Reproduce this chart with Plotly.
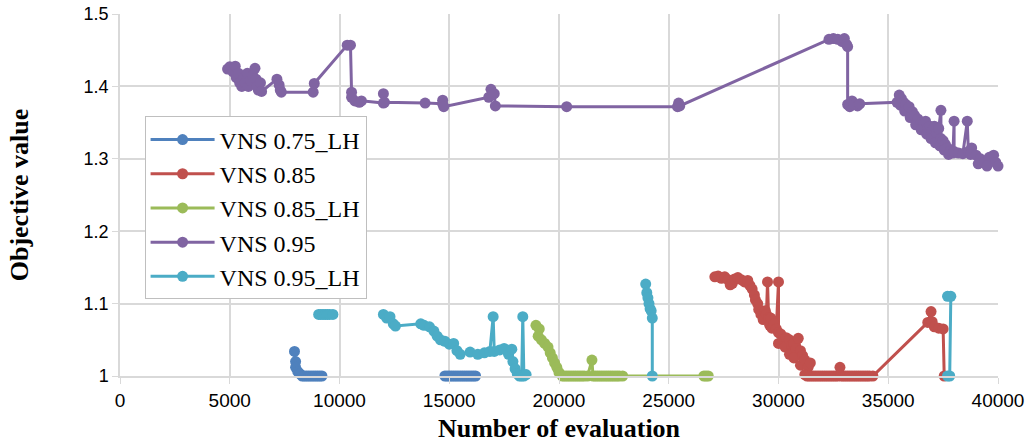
import plotly.graph_objects as go

# ---- data ----
blue_x = [7950, 8000, 8000, 8100, 8200, 8300, 8400, 8500, 8600, 8700, 8800, 8900, 9000,
          9100, 9200, None,
          14800, 14900, 15000, 15100, 15200, 15300, 15400, 15500, 15600, 15700, 15800,
          15900, 16000, 16100, 16200]
blue_y = [1.034, 1.02, 1.012, 1.006, 1.003, 1.0, 1.0, 1.0, 1.0, 1.0, 1.0, 1.0, 1.0,
          1.0, 1.0, None,
          1.0, 1.0, 1.0, 1.0, 1.0, 1.0, 1.0, 1.0, 1.0, 1.0, 1.0,
          1.0, 1.0, 1.0, 1.0]

red_x = [27100, 27250, 27400, 27550, 27700, 27800, 27900, 28000, 28150, 28300, 28450,
         28600, 28700, 28800, 28900, 28950, 29050, 29100, 29200, 29300, 29400, 29450,
         29500, 29550, 29600, 29700, 29650, 29800, 29900, 30000, 30000, 30100, 30000,
         30200, 30350, 30300, 30500, 30600, 30500, 30700, 30800, 30700, 30900, 31000,
         31100, 31000, 31200, 31350, 31450, 31200, 31300, 31400, 31500, 31600, 31700,
         31800, 31900, 32000, 32100, 32200, 32300, 32400, 32500, 32600, 32700, 32800,
         32850, 32950, 33050, 33150, 33250, 33350, 33450, 33550, 33650, 33750, 33850,
         33950, 34050, 34150, 34300,
         36800, 36950, 37000, 37100, 37300, 37500, 37550]
red_y = [1.137, 1.138, 1.135, 1.137, 1.133, 1.126, 1.128, 1.134, 1.136, 1.133, 1.13,
         1.132, 1.125, 1.12, 1.112, 1.105, 1.1, 1.092, 1.085, 1.078, 1.09, 1.085,
         1.13, 1.08, 1.07, 1.066, 1.08, 1.072, 1.065, 1.13, 1.06, 1.058, 1.045,
         1.05, 1.053, 1.04, 1.05, 1.042, 1.03, 1.045, 1.038, 1.025, 1.052, 1.035,
         1.028, 1.015, 1.022, 1.012, 1.018, 1.002, 1.0, 1.0, 1.0, 1.0, 1.0,
         1.0, 1.0, 1.0, 1.0, 1.0, 1.0, 1.0, 1.0, 1.0, 1.0, 1.012,
         1.0, 1.0, 1.0, 1.0, 1.0, 1.0, 1.0, 1.0, 1.0, 1.0, 1.0,
         1.0, 1.0, 1.0, 1.0,
         1.074, 1.089, 1.075, 1.068, 1.066, 1.065, 1.0]

green_x = [18950, 19100, 19050, 19200, 19350, 19500, 19600, 19700, 19800, 19900, 20000,
           20150, 20250, 20350, 20450, 20550, 20650, 20750, 20850, 20950, 21050, 21150,
           21300, 21500, 21550, 21650, 21750, 21850, 21950, 22050, 22150, 22250, 22350,
           22450, 22550, 22650, 22750, 22900, 26600, 26700, 26800]
green_y = [1.07, 1.065, 1.055, 1.05, 1.045, 1.04, 1.032, 1.025, 1.018, 1.012, 1.005,
           1.0, 1.0, 1.0, 1.0, 1.0, 1.0, 1.0, 1.0, 1.0, 1.0, 1.0,
           1.0, 1.022, 1.0, 1.0, 1.0, 1.0, 1.0, 1.0, 1.0, 1.0, 1.0,
           1.0, 1.0, 1.0, 1.0, 1.0, 1.0, 1.0, 1.0]

purple_x = [4900, 5000, 5150, 5250, 5300, 5400, 5450, 5550, 5650, 5700, 5800, 5850,
            5950, 6050, 6150, 6200, 6250, 6300, 6400, 6450, 7150, 7250, 7300, 7350,
            8800, 8850, 10350, 10500, 10550, 10550, 10700, 10900, 11000, 12000, 12000,
            12050, 13900, 14700, 14700, 14750, 16800, 16900, 16950, 17050, 17100,
            20350, 25400, 25450, 25500, 32300, 32500, 32700, 32900, 33000, 33100,
            33150, 33150, 33250, 33350, 33450, 33600, 33700, 35400, 35500, 35600,
            35550, 35700, 35800, 35750, 35950, 36100, 36000, 36200, 36350, 36250,
            36500, 36600, 36500, 36700, 36800, 36750, 36900, 37000, 36950, 37100,
            37200, 37150, 37300, 37400, 37400, 37350, 37500, 37600, 37550, 37700,
            37800, 37750, 37950, 38000, 38000, 38200, 38400, 38600, 38650, 38800,
            38750, 39000, 39200, 39100, 39400, 39600, 39500, 39800, 39900, 40000]
purple_y = [1.424, 1.427, 1.42, 1.428, 1.412, 1.418, 1.405, 1.40, 1.412, 1.405, 1.418,
            1.40, 1.408, 1.415, 1.425, 1.41, 1.40, 1.395, 1.405, 1.393, 1.41, 1.402,
            1.395, 1.392, 1.392, 1.404, 1.457, 1.457, 1.392, 1.385, 1.38, 1.378,
            1.38, 1.377, 1.39, 1.378, 1.377, 1.376, 1.381, 1.372, 1.385, 1.396,
            1.388, 1.39, 1.373, 1.372, 1.372, 1.377, 1.373, 1.465, 1.466, 1.465,
            1.462, 1.466, 1.458, 1.455, 1.375, 1.372, 1.38, 1.375, 1.373, 1.376,
            1.378, 1.388, 1.383, 1.374, 1.378, 1.375, 1.366, 1.372, 1.365, 1.357,
            1.36, 1.355, 1.347, 1.35, 1.348, 1.34, 1.352, 1.342, 1.334, 1.345,
            1.338, 1.328, 1.345, 1.335, 1.322, 1.342, 1.367, 1.328, 1.318, 1.325,
            1.32, 1.312, 1.315, 1.31, 1.306, 1.308, 1.352, 1.31, 1.308, 1.307,
            1.352, 1.31, 1.315, 1.306, 1.305, 1.30, 1.293, 1.295, 1.302, 1.29,
            1.305, 1.295, 1.29]

cyan_x = [9050, 9150, 9250, 9350, 9450, 9550, 9700, None,
          12000, 12150, 12300, 12450, 12550, 13700, 13850, 14100, 14300, 14450, 14600,
          14800, 15000, 15200, 15350, 15500, 15950, 16300, 16600, 16850, 17000, 17050,
          17300, 17500, 17700, 17850, 17900, 18000, 18100, 18200, 18300, 18350, 18400,
          18500, None,
          23950, 24000, 24050, 24100, 24150, 24200, 24250, 24250, None,
          37700, 37850, 37800, 37700]
cyan_y = [1.085, 1.085, 1.085, 1.085, 1.085, 1.085, 1.085, None,
          1.085, 1.08, 1.082, 1.072, 1.069, 1.072, 1.07, 1.068, 1.062, 1.055, 1.05,
          1.048, 1.044, 1.045, 1.035, 1.03, 1.033, 1.03, 1.032, 1.034, 1.082, 1.034,
          1.036, 1.038, 1.03, 1.037, 1.02, 1.01, 1.003, 1.0, 1.0, 1.082, 1.0,
          1.002, None,
          1.127, 1.115, 1.108, 1.1, 1.093, 1.09, 1.08, 1.0, None,
          1.11, 1.11, 1.0, 1.0]

series_names = ["VNS 0.75_LH", "VNS 0.85", "VNS 0.85_LH", "VNS 0.95", "VNS 0.95_LH"]
series_colors = ["#4F81BD", "#C0504D", "#9BBB59", "#8064A2", "#4BACC6"]
series_x = [blue_x, red_x, green_x, purple_x, cyan_x]
series_y = [blue_y, red_y, green_y, purple_y, cyan_y]

x_ticks = [0, 5000, 10000, 15000, 20000, 25000, 30000, 35000, 40000]
y_ticks = [1, 1.1, 1.2, 1.3, 1.4, 1.5]
y_tick_text = ["1", "1.1", "1.2", "1.3", "1.4", "1.5"]

fig = go.Figure()
for i, (name, col, xs, ys) in enumerate(zip(series_names, series_colors, series_x, series_y)):
    fig.add_trace(go.Scatter(
        x=xs, y=ys, name=name, mode="lines+markers",
        line=dict(color=col, width=3),
        marker=dict(color=col, size=11),
        connectgaps=False, cliponaxis=False,
        legendgroup=f"g{i}",
    ))

grid = "#D9D9D9"
fig.update_layout(
    width=1027, height=443,
    margin=dict(l=120, r=29, t=14, b=67, autoexpand=False),
    paper_bgcolor="white", plot_bgcolor="white",
    showlegend=True,
    legend=dict(
        x=0.028, y=0.717, xanchor="left", yanchor="top",
        bordercolor="#BFBFBF", borderwidth=1, bgcolor="white",
        font=dict(family="Liberation Serif", size=24, color="black"),
        tracegroupgap=0, itemwidth=64,
        traceorder="normal",
    ),
    xaxis=dict(
        range=[0, 40000], tickvals=x_ticks, ticktext=[str(v) for v in x_ticks],
        showgrid=True, gridcolor=grid, gridwidth=1.5,
        showline=True, linecolor=grid, linewidth=1.5,
        ticks="outside", ticklen=6, tickcolor=grid,
        tickfont=dict(family="Liberation Sans Narrow, Liberation Sans", size=19, color="black"),
        title=dict(text="<b>Number of evaluation</b>",
                   font=dict(family="Liberation Serif", size=26, color="black"),
                   standoff=12),
        zeroline=False, automargin=False,
    ),
    yaxis=dict(
        range=[1, 1.5], tickvals=y_ticks, ticktext=y_tick_text,
        showgrid=True, gridcolor=grid, gridwidth=1.5,
        showline=True, linecolor=grid, linewidth=1.5,
        ticks="outside", ticklen=6, tickcolor=grid,
        tickfont=dict(family="Liberation Sans", size=18, color="black"),
        title=dict(text="<b>Objective value</b>",
                   font=dict(family="Liberation Serif", size=26, color="black"),
                   standoff=48),
        zeroline=False, automargin=False,
    ),
)

fig.write_html("out.html", config={"displayModeBar": False},
               post_script="document.body.style.margin='0';document.body.style.overflow='hidden';")
